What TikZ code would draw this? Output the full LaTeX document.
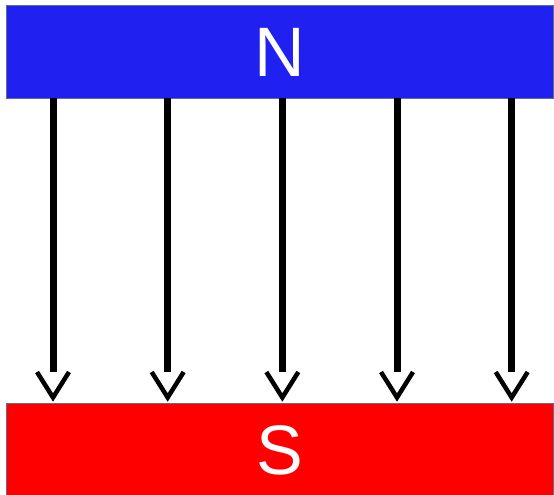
\documentclass[tikz,border=0pt]{standalone}
\usepackage{fontspec}
\setsansfont{Liberation Sans}
\usetikzlibrary{positioning}

\definecolor{poleblue}{RGB}{32,32,240}
\definecolor{poleedge}{RGB}{95,110,145}

\tikzset{
  pole/.style={draw=poleedge, line width=1, minimum width=547, minimum height=93,
    inner sep=0pt, text=white, font=\sffamily\fontsize{70}{70}\selectfont},
  fieldline/.style={line width=7},
  barb/.style={line width=4.5, line join=miter}
}

\begin{document}
\begin{tikzpicture}[x=1pt,y=-1pt]
	\useasboundingbox (0,0) rectangle (554,495);
	% the two poles
	\node[pole, fill=poleblue] (north) at (280,52) {N};
	\node[pole, fill=red] (south) at (280,450) {S};
	% field lines
	\foreach \i in {0,...,4} {
		\coordinate (top\i) at ({53+114.67*\i},98);
		\coordinate (end\i) at ({53+114.67*\i},372);
		\coordinate (tip\i) at ({53+114.67*\i},397.5);
		\draw[fieldline] (top\i) -- (end\i);
		\draw[barb] ([xshift=-16]end\i) -- (tip\i) -- ([xshift=16]end\i);
	}
\end{tikzpicture}
\end{document}
